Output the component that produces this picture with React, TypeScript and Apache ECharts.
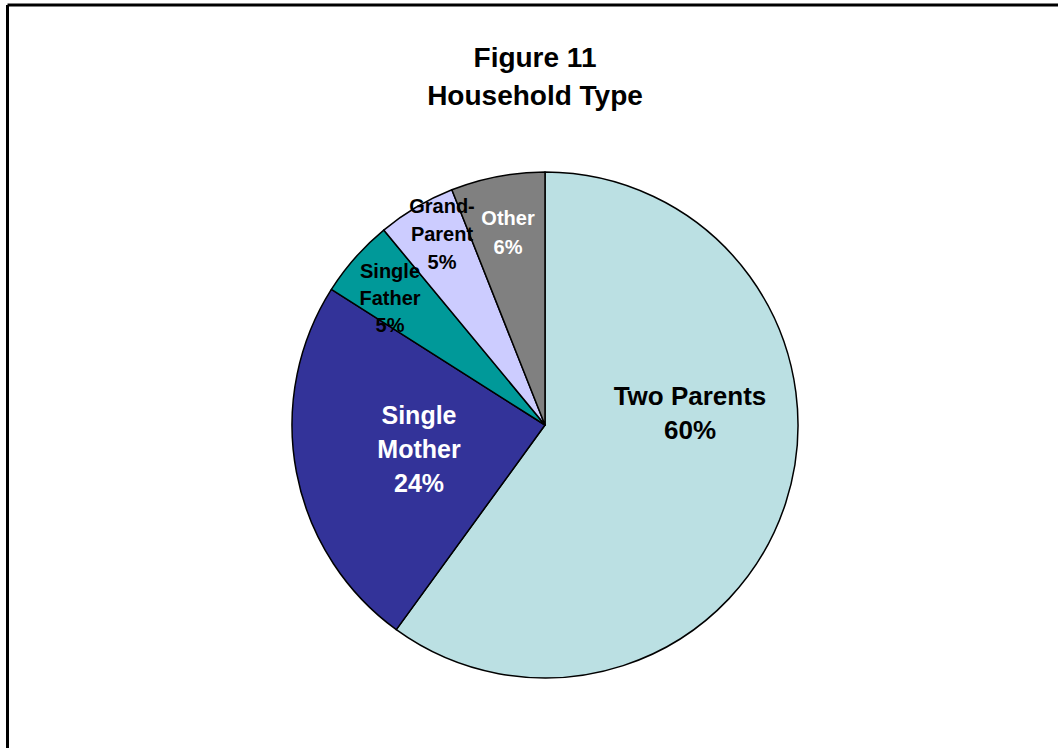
import React, { useEffect, useRef } from "react";
import * as echarts from "echarts";

const categories = ["Two Parents", "Single Mother", "Single Father", "Grand-Parent", "Other"];
const labelLines = ["Two Parents", "Single\nMother", "Single\nFather", "Grand-\nParent", "Other"];
const shares = [60, 24, 5, 5, 6];
const titleLines = ["Figure 11", "Household Type"];

const colors = ["#BBE0E3", "#333399", "#009999", "#CCCCFF", "#808080"];
const labelColors = ["#000000", "#FFFFFF", "#000000", "#000000", "#FFFFFF"];
const labelSizes = [26, 25, 20, 20, 20];
const labelLineHeights = [34, 34, 27, 28, 29];
const labelPos: [number, number][] = [
  [690, 413],
  [419, 449],
  [390, 298],
  [442, 234],
  [508, 232],
];
const titleY = [57, 95];

const FONT = "Liberation Sans, Arial, sans-serif";

export default function App() {
  const ref = useRef<HTMLDivElement>(null);
  useEffect(() => {
    if (!ref.current) return;
    const chart = echarts.init(ref.current, null, { renderer: "svg" });
    chart.setOption({
      animation: false,
      backgroundColor: "#FFFFFF",
      graphic: [
        { type: "line", silent: true, shape: { x1: 7.5, y1: 5, x2: 1058, y2: 5 }, style: { stroke: "#000", lineWidth: 3 } },
        { type: "line", silent: true, shape: { x1: 7.5, y1: 5, x2: 7.5, y2: 748 }, style: { stroke: "#000", lineWidth: 3 } },
        ...titleLines.map((t, i) => ({
          type: "text",
          silent: true,
          x: 535,
          y: titleY[i],
          style: {
            text: t,
            fill: "#000000",
            font: `bold 28px ${FONT}`,
            textAlign: "center",
            textVerticalAlign: "middle",
          },
        })),
      ],
      series: [
        {
          type: "pie",
          center: [545, 425],
          radius: 253,
          startAngle: 90,
          clockwise: true,
          silent: true,
          emphasis: { disabled: true },
          itemStyle: { borderColor: "#000000", borderWidth: 1.5 },
          label: {
            show: true,
            position: "inside",
            fontFamily: FONT,
            fontWeight: "bold",
          },
          labelLine: { show: false },
          labelLayout: (params: any) => {
            const p = labelPos[params.dataIndex];
            return { x: p[0], y: p[1], align: "center", verticalAlign: "middle" };
          },
          data: categories.map((name, i) => ({
            name,
            value: shares[i],
            itemStyle: { color: colors[i] },
            label: {
              formatter: `${labelLines[i]}\n${shares[i]}%`,
              color: labelColors[i],
              fontSize: labelSizes[i],
              lineHeight: labelLineHeights[i],
            },
          })),
        },
      ],
    });
    return () => chart.dispose();
  }, []);
  return (
    <div
      ref={ref}
      style={{ position: "absolute", left: 0, top: 0, width: 1058, height: 748 }}
    />
  );
}
